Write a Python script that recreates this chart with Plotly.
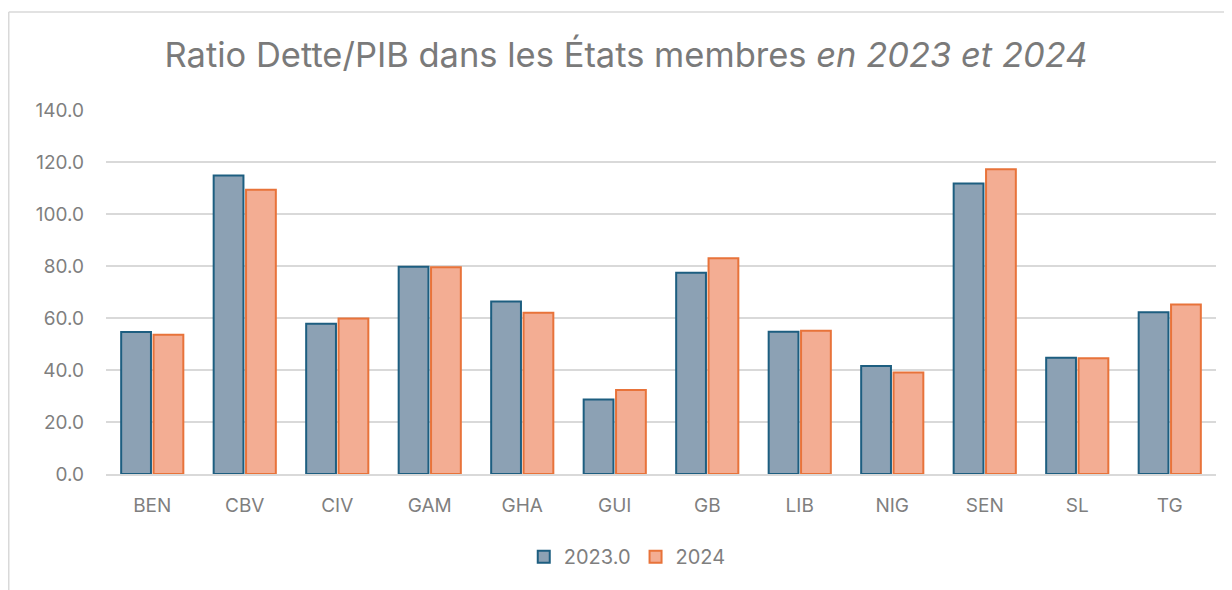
import plotly.graph_objects as go

categories = ["BEN", "CBV", "CIV", "GAM", "GHA", "GUI", "GB", "LIB", "NIG", "SEN", "SL", "TG"]
values_2023 = [54.6, 114.8, 57.8, 79.7, 66.3, 28.7, 77.4, 54.7, 41.5, 111.7, 44.7, 62.2]
values_2024 = [53.6, 109.3, 59.8, 79.5, 62.0, 32.3, 83.0, 55.1, 39.0, 117.2, 44.5, 65.2]
series_names = ["2023.0", "2024"]
y_ticks = [0, 20, 40, 60, 80, 100, 120, 140]

# page body has an 8px margin; work in figure coordinates
OFF = 8
W, H = 1232 - OFF, 590 - OFF
L, R, T, B = 105.75 - OFF, 1215.75 - OFF, 110 - OFF, 474.3 - OFF

fig = go.Figure()
fig.add_trace(go.Bar(
    x=categories, y=values_2023, name=series_names[0],
    marker=dict(color="#8CA1B4", line=dict(color="#1D5E80", width=2)),
))
fig.add_trace(go.Bar(
    x=categories, y=values_2024, name=series_names[1],
    marker=dict(color="#F3AD93", line=dict(color="#E8733A", width=2)),
))

font_family = "Inter, Roboto, sans-serif"
grey = "#7F7F7F"

def px_x(p):
    return (p - OFF - L) / (R - L)

def px_y(p):
    return (B - (p - OFF)) / (B - T)

fig.update_layout(
    width=W, height=H,
    paper_bgcolor="white", plot_bgcolor="white",
    margin=dict(l=L, r=W - R, t=T, b=H - B, autoexpand=False),
    barmode="group", bargap=0.3, bargroupgap=0.08,
    font=dict(family=font_family, color=grey, size=19),
    title=dict(
        text="Ratio Dette/PIB dans les États membres <i>en 2023 et 2024</i>",
        x=(626 - OFF) / W, xanchor="center", xref="container",
        y=1 - (55 - OFF) / H, yanchor="middle", yref="container",
        font=dict(size=34.5, color="#7A7A7A", family=font_family),
    ),
    legend=dict(
        orientation="h", x=px_x(627), xanchor="center",
        y=px_y(557), yanchor="middle",
        font=dict(size=20, color=grey), itemwidth=30, traceorder="normal",
    ),
    showlegend=True,
    xaxis=dict(
        showgrid=False, showline=True, linecolor="#D9D9D9", linewidth=1.5,
        ticks="", ticklabelstandoff=13, tickfont=dict(size=19, color=grey),
    ),
    yaxis=dict(
        range=[0, 140], tickvals=y_ticks, tickformat=".1f",
        showgrid=True, gridcolor="#D9D9D9", gridwidth=1.5,
        zeroline=False, showline=False, ticks="",
        ticklabelstandoff=21, tickfont=dict(size=19, color=grey),
    ),
    shapes=[
        dict(type="line", xref="paper", yref="paper",
             x0=px_x(8.5), x1=px_x(8.5), y0=px_y(12), y1=px_y(600),
             line=dict(color="#D9D9D9", width=1.5)),
        dict(type="line", xref="paper", yref="paper",
             x0=px_x(8.5), x1=px_x(1240), y0=px_y(12), y1=px_y(12),
             line=dict(color="#D9D9D9", width=1.5)),
    ],
)

fig.write_html("out.html")
